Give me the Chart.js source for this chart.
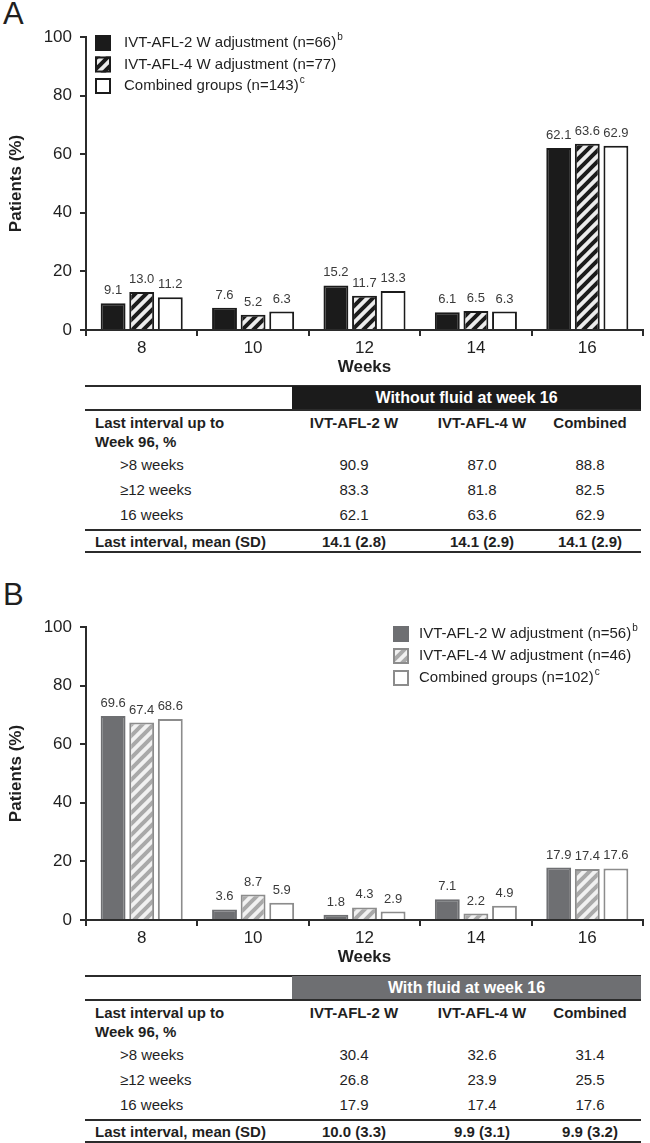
<!DOCTYPE html>
<html lang="en">
<head>
<meta charset="UTF-8">
<title>Last interval by fluid status at week 16</title>
<script src="https://cdn.jsdelivr.net/npm/chart.js"></script>
<style>
  body {
    margin: 0;
    width: 650px;
    height: 1143px;
    position: relative;
    overflow: hidden;
    background: #fff;
    font-family: "Liberation Sans", Arial, sans-serif;
    color: #1f1f1f;
  }
  .letter { position: absolute; left: 3px; font-size: 31px; line-height: 1; }
  canvas { position: absolute; left: 0; }
  .tbl { position: absolute; left: 85px; width: 556px; height: 168px; }
  .tbl .rule { position: absolute; left: 0; right: 0; background: #2b2b2b; }
  .tbl .head {
    position: absolute; left: 207px; right: 0; top: 1px; height: 24px;
    color: #fff; font-weight: bold; font-size: 16px; line-height: 24px; text-align: center;
  }
  .tbl .cell { position: absolute; font-size: 15px; white-space: nowrap; transform: translate(-50%, -50%); }
  .tbl .left { transform: translate(0, -50%); }
  .tbl .b { font-weight: bold; }
</style>
</head>
<body>
<div class="letter" style="top:-2px">A</div>
<canvas id="chartA" width="650" height="385" style="top:0"></canvas>
<div class="tbl" id="tableA" style="top:385px"></div>

<div class="letter" style="top:579px">B</div>
<canvas id="chartB" width="650" height="405" style="top:570px"></canvas>
<div class="tbl" id="tableB" style="top:975px"></div>

<script>
// categories and tick labels
const weeks = ['8', '10', '12', '14', '16'];
const yTicks = [0, 20, 40, 60, 80, 100];

// panel A: without fluid at week 16
const noFluid2W = [9.1, 7.6, 15.2, 6.1, 62.1];
const noFluid4W = [13.0, 5.2, 11.7, 6.5, 63.6];
const noFluidComb = [11.2, 6.3, 13.3, 6.3, 62.9];

// panel B: with fluid at week 16
const fluid2W = [69.6, 3.6, 1.8, 7.1, 17.9];
const fluid4W = [67.4, 8.7, 4.3, 2.2, 17.4];
const fluidComb = [68.6, 5.9, 2.9, 4.9, 17.6];

// legends
const legendA = ['IVT-AFL-2 W adjustment (n=66)', 'IVT-AFL-4 W adjustment (n=77)', 'Combined groups (n=143)'];
const legendB = ['IVT-AFL-2 W adjustment (n=56)', 'IVT-AFL-4 W adjustment (n=46)', 'Combined groups (n=102)'];
const legendSups = ['b', '', 'c'];

// tables
const colHeaders = ['IVT-AFL-2 W', 'IVT-AFL-4 W', 'Combined'];
const rowLabels = ['>8 weeks', '\u226512 weeks', '16 weeks'];
const noFluidRows = [['90.9', '87.0', '88.8'], ['83.3', '81.8', '82.5'], ['62.1', '63.6', '62.9']];
const noFluidMean = ['14.1 (2.8)', '14.1 (2.9)', '14.1 (2.9)'];
const fluidRows = [['30.4', '32.6', '31.4'], ['26.8', '23.9', '25.5'], ['17.9', '17.4', '17.6']];
const fluidMean = ['10.0 (3.3)', '9.9 (3.1)', '9.9 (3.2)'];

const FONT = '"Liberation Sans", Arial, sans-serif';
const INK = '#1f1f1f';
const AXIS = '#2b2b2b';

// diagonal hatch "/" as a canvas pattern
function stripes(bg, fg) {
  const t = 11;
  const c = document.createElement('canvas');
  c.width = t;
  c.height = t;
  const g = c.getContext('2d');
  g.fillStyle = bg;
  g.fillRect(0, 0, t, t);
  g.strokeStyle = fg;
  g.lineWidth = 4;
  g.beginPath();
  g.moveTo(-1, t + 1); g.lineTo(t + 1, -1);
  g.moveTo(-2, 2); g.lineTo(2, -2);
  g.moveTo(t - 2, t + 2); g.lineTo(t + 2, t - 2);
  g.stroke();
  return document.createElement('canvas').getContext('2d').createPattern(c, 'repeat');
}

// numbers above each bar
const valueLabels = {
  id: 'valueLabels',
  afterDatasetsDraw(chart) {
    const ctx = chart.ctx;
    ctx.save();
    ctx.font = '13px ' + FONT;
    ctx.fillStyle = '#3a3a3a';
    ctx.textAlign = 'center';
    ctx.textBaseline = 'alphabetic';
    chart.data.datasets.forEach((ds, i) => {
      chart.getDatasetMeta(i).data.forEach((bar, j) => {
        ctx.fillText(ds.data[j].toFixed(1), bar.x, bar.y - 9);
      });
    });
    ctx.restore();
  }
};

// legend with patterned swatches and superscripts
const swatchLegend = {
  id: 'swatchLegend',
  afterDraw(chart, args, opts) {
    const ctx = chart.ctx;
    const s = 16;
    ctx.save();
    chart.data.datasets.forEach((ds, i) => {
      const cy = opts.y + i * opts.gap;
      ctx.fillStyle = ds.backgroundColor;
      ctx.fillRect(opts.x, cy - s / 2, s, s);
      ctx.lineWidth = 2;
      ctx.strokeStyle = ds.borderColor;
      ctx.strokeRect(opts.x + 1, cy - s / 2 + 1, s - 2, s - 2);
      ctx.font = '15px ' + FONT;
      ctx.fillStyle = INK;
      ctx.textAlign = 'left';
      ctx.textBaseline = 'middle';
      ctx.fillText(ds.label, opts.textX, cy);
      if (legendSups[i]) {
        const w = ctx.measureText(ds.label).width;
        ctx.font = '10px ' + FONT;
        ctx.fillText(legendSups[i], opts.textX + w + 1, cy - 6);
      }
    });
    ctx.restore();
  }
};

function makeChart(id, labels, values, fills, borders, topPad, legendY) {
  const datasets = values.map((v, i) => ({
    label: labels[i],
    data: v,
    backgroundColor: fills[i],
    borderColor: borders[i],
    borderWidth: 2,
    categoryPercentage: 0.77,
    barPercentage: 0.87
  }));
  return new Chart(document.getElementById(id), {
    type: 'bar',
    data: { labels: weeks, datasets },
    options: {
      responsive: false,
      animation: false,
      devicePixelRatio: 1,
      layout: { padding: { top: topPad, right: 7, left: 0, bottom: 0 } },
      plugins: {
        legend: { display: false },
        tooltip: { enabled: false },
        swatchLegend: legendY
      },
      scales: {
        x: {
          grid: { display: true, drawOnChartArea: false, tickLength: 6, color: AXIS, lineWidth: 2, offset: true },
          border: { display: true, color: AXIS, width: 2 },
          ticks: { color: INK, font: { size: 17, family: FONT }, padding: 2 },
          title: {
            display: true, text: 'Weeks', color: INK,
            font: { size: 17, weight: 'bold', family: FONT },
            padding: { top: 0, bottom: 7 }
          },
          afterFit: s => { s.height = 55; }
        },
        y: {
          min: 0,
          max: 100,
          afterBuildTicks: s => { s.ticks = yTicks.map(v => ({ value: v })); },
          grid: { drawOnChartArea: false, tickLength: 6, color: AXIS, lineWidth: 2 },
          border: { display: true, color: AXIS, width: 2 },
          ticks: { color: INK, font: { size: 17, family: FONT }, padding: 8 },
          title: {
            display: true, text: 'Patients (%)', color: INK,
            font: { size: 17, weight: 'bold', family: FONT },
            padding: { top: 6, bottom: 0 }
          },
          afterFit: s => { s.width = 86; }
        }
      }
    },
    plugins: [valueLabels, swatchLegend]
  });
}

makeChart('chartA', legendA,
  [noFluid2W, noFluid4W, noFluidComb],
  ['#1b1b1b', stripes('#ececec', '#1b1b1b'), '#ffffff'],
  ['#1b1b1b', '#1b1b1b', '#1b1b1b'],
  37, { x: 95, y: 43, gap: 21.5, textX: 124 });

makeChart('chartB', legendB,
  [fluid2W, fluid4W, fluidComb],
  ['#6e6f72', stripes('#f1f1f1', '#a9a9a9'), '#ffffff'],
  ['#6e6f72', '#8c8c8c', '#8c8c8c'],
  57, { x: 393, y: 64, gap: 22, textX: 419 });

// summary tables under each chart
function buildTable(id, title, fill, rows, means) {
  const el = document.getElementById(id);
  const colX = [269, 397, 505];
  let html = '';
  html += '<div class="rule" style="top:0;height:2px"></div>';
  html += `<div class="head" style="background:${fill}">${title}</div>`;
  html += '<div class="rule" style="top:24px;height:2px"></div>';
  html += '<div class="cell left b" style="left:10px;top:37px">Last interval up to</div>';
  html += '<div class="cell left b" style="left:10px;top:56px">Week 96, %</div>';
  colHeaders.forEach((h, i) => {
    html += `<div class="cell b" style="left:${colX[i]}px;top:37px">${h}</div>`;
  });
  const rowY = [79, 104, 129];
  rows.forEach((r, k) => {
    html += `<div class="cell left" style="left:35px;top:${rowY[k]}px">${rowLabels[k].replace('>', '&gt;')}</div>`;
    r.forEach((v, i) => {
      html += `<div class="cell" style="left:${colX[i]}px;top:${rowY[k]}px">${v}</div>`;
    });
  });
  html += '<div class="rule" style="top:144px;height:2px"></div>';
  html += '<div class="cell left b" style="left:10px;top:156px">Last interval, mean (SD)</div>';
  means.forEach((v, i) => {
    html += `<div class="cell b" style="left:${colX[i]}px;top:156px">${v}</div>`;
  });
  html += '<div class="rule" style="top:166px;height:2px"></div>';
  el.innerHTML = html;
}

buildTable('tableA', 'Without fluid at week 16', '#1b1b1b', noFluidRows, noFluidMean);
buildTable('tableB', 'With fluid at week 16', '#6e6f72', fluidRows, fluidMean);
</script>
</body>
</html>
